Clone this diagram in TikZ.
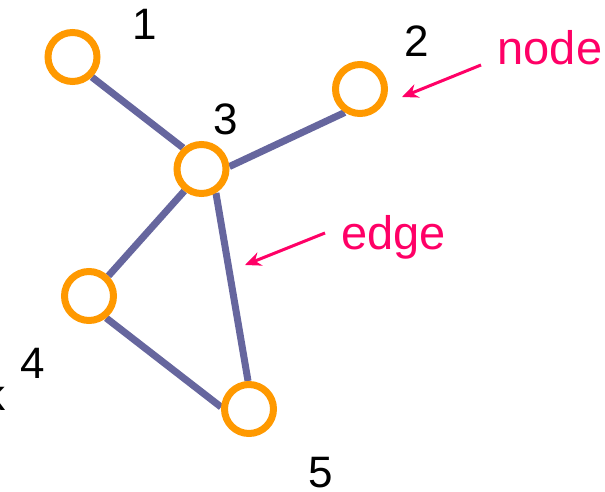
\documentclass[tikz,border=0pt]{standalone}
\usepackage{fontspec}
\setmainfont{Liberation Sans}
\usepackage{tikz}
\usetikzlibrary{arrows.meta, backgrounds}
\definecolor{vertexorange}{RGB}{255,153,0}
\definecolor{edgeslate}{RGB}{102,102,158}
\definecolor{notepink}{RGB}{255,0,102}

\begin{document}
\begin{tikzpicture}[x=1pt, y=-1pt, font=\fontsize{44}{50}\selectfont,
  vertex/.style={circle, draw=vertexorange, line width=7pt, fill=white, minimum size=49pt, inner sep=0pt},
  link/.style={draw=edgeslate, line width=7pt},
  tag/.style={anchor=base, inner sep=0pt},
  note/.style={anchor=base, inner sep=0pt, text=notepink, font=\fontsize{47}{52}\selectfont},
  pointer/.style={draw=notepink, line width=3pt, -{Stealth[length=16pt, width=14pt]}}]
  \useasboundingbox (0,0) rectangle (605,492);
  % Vertices
  \node[vertex] (n1) at (72.5,57) {};
  \node[vertex] (n2) at (360,89) {};
  \node[vertex] (n3) at (201.5,169) {};
  \node[vertex] (n4) at (89,296) {};
  \node[vertex] (n5) at (249,409) {};
  % Numbers
  \node[tag] (l1) at (145,40) {1};
  \node[tag] (l2) at (417,57) {2};
  \node[tag] (l3) at (226,135) {3};
  \node[tag] (l4) at (33,378) {4};
  \node[tag] (l5) at (321,487) {5};
  \node[anchor=base east, inner sep=0pt] (lk) at (6,410) {k};
  % Edges
  \begin{scope}[on background layer]
    \draw[link] (n1.-46) -- (n3.131);
    \draw[link] (n2.-123) -- (n3.5);
    \draw[link] (n3.232) -- (n4.46);
    \draw[link] (n3.-59) -- (n5.92);
    \draw[link] (n4.-52) -- (n5.176);
  \end{scope}
  % Notes
  \node[note] (tnode) at (550,65) {node};
  \node[note] (tedge) at (393.5,249) {edge};
  \coordinate (nodetail) at (481,65);
  \coordinate (nodetip) at (402,97);
  \coordinate (edgetail) at (325,233);
  \coordinate (edgetip) at (245,265);
  \draw[pointer] (nodetail) -- (nodetip);
  \draw[pointer] (edgetail) -- (edgetip);
\end{tikzpicture}
\end{document}
